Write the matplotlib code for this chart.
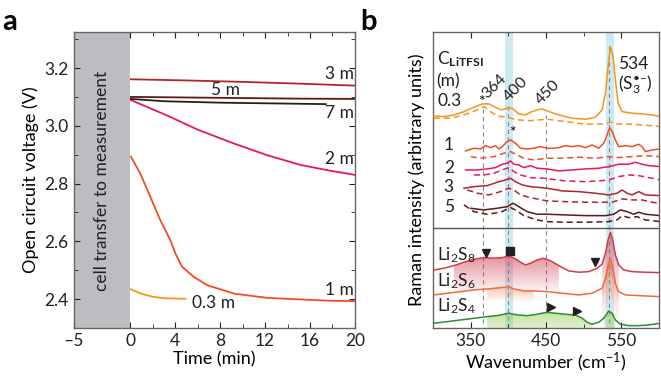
import numpy as np
import matplotlib
matplotlib.use('Agg')
import matplotlib.pyplot as plt
from matplotlib.colors import to_rgb

plt.rcParams['font.family'] = ['Lato', 'DejaVu Sans']
plt.rcParams['mathtext.fontset'] = 'custom'
plt.rcParams['mathtext.rm'] = 'Lato'
plt.rcParams['mathtext.it'] = 'Lato:italic'
plt.rcParams['mathtext.bf'] = 'Lato:bold'

# ---- panel a: open circuit voltage vs time ----
t_03 = [0.06, 1, 2, 3, 4.9]
v_03 = [2.434, 2.418, 2.408, 2.403, 2.401]
t_1 = [0.06, 0.89, 1.79, 2.68, 3.57, 4.02, 4.61, 5.65, 6.85, 9.23, 12.2, 17.86, 20]
v_1 = [2.893, 2.835, 2.754, 2.673, 2.604, 2.558, 2.512, 2.477, 2.448, 2.419, 2.404, 2.394, 2.393]
t_2 = [0.06, 3.2, 6.1, 9.2, 12.2, 15.2, 17.86, 20]
v_2 = [3.089, 3.037, 2.985, 2.939, 2.898, 2.864, 2.844, 2.83]
t_3 = [0.06, 5, 10, 15, 20]
v_3 = [3.161, 3.157, 3.152, 3.146, 3.139]
t_5 = [0.06, 5, 10, 15, 20]
v_5 = [3.100, 3.098, 3.096, 3.094, 3.093]
t_7 = [0.06, 3, 8, 17.4]
v_7 = [3.093, 3.085, 3.080, 3.075]

# ---- panel b: Raman spectra (wavenumber, intensity in arbitrary units) ----
s03 = [(301.4, 212), (314.7, 211.3), (327.9, 213), (341.1, 216.3), (354.4, 220.7), (365.4, 224),
       (374.2, 224), (385.3, 219.7), (391.9, 218), (400.7, 220.3), (405.1, 219.7), (414, 214),
       (422.8, 213), (429.4, 215.7), (438.2, 218), (444.8, 219), (451.5, 217), (467, 213),
       (484.7, 209.7), (502.4, 208.7), (515.6, 210.7), (524.5, 218), (528.9, 234.7), (532.4, 261.3),
       (535.5, 281.3), (539, 271.3), (542.1, 248), (545.7, 224.7), (551, 216.3), (564.2, 214.7),
       (577.4, 214), (590.7, 213), (601.7, 211.3)]
s03_d = [(301.4, 209.7), (323.5, 209.7), (341.1, 213), (358.8, 218), (367.6, 221.3), (376.4, 216.3),
         (385.3, 212), (398.5, 210.7), (411.7, 208), (429.4, 207.3), (451.5, 208.7), (475.9, 206.3),
         (502.4, 203.7), (528.9, 204), (535.5, 206), (544.3, 204), (564.2, 203.7), (581.9, 202.7),
         (601.7, 201.3)]
s1 = [(343.3, 177), (354.4, 179.7), (363.2, 179), (369.8, 182.3), (376.4, 180.3), (383.1, 182.3),
      (387.5, 179), (391.9, 181.3), (398.5, 186.3), (402.9, 188), (409.5, 184.7), (416.2, 179.7),
      (425, 179), (433.8, 179.7), (442.6, 181.3), (451.5, 179.7), (458.2, 179.7), (467.1, 180.3),
      (475.9, 182.3), (484.7, 181.3), (493.6, 182.3), (502.4, 180.3), (511.2, 183), (520, 179.7),
      (526.7, 184.7), (531.1, 193), (534.6, 200.3), (537.7, 196.3), (542.1, 188), (546.5, 181.3),
      (555.4, 182.3), (564.2, 181.3), (573, 183.7), (577.4, 181.3), (581.9, 176.3), (590.7, 178),
      (601.7, 179)]
s1_d = [(350, 171.3), (363.2, 169.7), (380.8, 171.3), (394.1, 174.7), (402.9, 176.3), (411.7, 173),
        (420.6, 169.7), (433.8, 168), (451.5, 169.7), (471.5, 169.7), (493.6, 170.7), (515.6, 169.7),
        (533.3, 171.3), (542.1, 170.3), (564.2, 171.3), (581.9, 172.3), (601.7, 171.3)]
s2 = [(343.3, 158), (358.8, 158), (372, 159), (383.1, 160.3), (391.9, 163.7), (398.5, 164.7),
      (402.9, 167), (407.3, 163.7), (413.9, 163), (420.6, 160.3), (429.4, 162.3), (438.2, 159.7),
      (451.5, 159), (467.1, 157), (484.7, 158), (502.4, 159), (520, 159.7), (533.3, 161.3),
      (546.5, 163.7), (559.8, 163.7), (568.6, 165.7), (577.4, 163.7), (586.3, 162.3), (601.7, 161.3)]
s2_d = [(354.4, 153), (367.6, 153), (380.8, 154.7), (391.9, 158), (400.7, 160.3), (407.3, 156.3),
        (416.2, 153), (429.4, 150.3), (447, 149.7), (475.9, 147), (502.4, 146.3), (520, 147),
        (533.3, 148), (546.5, 151.3), (559.8, 153), (573, 152.3), (586.3, 150.3), (601.7, 148)]
s3 = [(341.1, 139.7), (354.4, 141.3), (372, 142.3), (385.3, 145.7), (396.3, 148), (402.9, 149.7),
      (409.5, 146.3), (418.4, 143), (429.4, 141.3), (451.5, 139.7), (471.5, 137), (493.6, 136.3),
      (515.6, 134.7), (533.3, 133), (544.3, 134.7), (551, 138), (557.6, 134.7), (564.2, 133),
      (573, 136.3), (581.9, 133), (601.7, 132.3)]
s3_d = [(345.5, 138), (358.8, 134.7), (374.2, 133), (389.7, 136.3), (400.7, 139.7), (407.3, 138),
        (416.2, 133), (429.4, 130.3), (451.5, 127), (475.9, 126.3), (502.4, 125.7), (537.7, 125.7),
        (551, 129), (564.2, 128), (577.4, 128), (590.7, 125.7), (601.7, 124.7)]
s5 = [(350, 119.7), (367.6, 118), (385.3, 119.7), (398.5, 121.3), (406.4, 124.7), (413.9, 121.3),
      (425, 116.3), (438.2, 113.7), (451.5, 113.7), (475.9, 113), (502.4, 112.3), (528.9, 112.3),
      (539.9, 113.7), (548.7, 118), (557.6, 116.3), (566.4, 113.7), (573, 115.7), (581.9, 113.7),
      (601.7, 112.3)]
s5_d = [(341.1, 123), (354.4, 116.3), (372, 113.7), (389.7, 115.7), (402.9, 120.3), (409.5, 118),
        (420.6, 112.3), (438.2, 108), (451.5, 106.3), (475.9, 105.7), (502.4, 105.7), (533.3, 106.3),
        (544.3, 108), (551, 112.3), (559.8, 110.3), (570.9, 111.3), (581.9, 108), (601.7, 106.3)]
li2s8 = [(301.4, 58), (314.7, 59.7), (327.9, 62.3), (341.1, 65.7), (354.4, 68.7), (367.6, 70.3),
         (380.8, 69.7), (391.9, 70.3), (400.7, 72), (409.5, 69), (416.2, 65.7), (422.8, 63),
         (429.4, 64.7), (438.2, 68), (447, 69.7), (458.2, 66.3), (467.1, 62.3), (480.3, 57),
         (493.6, 55.7), (506.8, 56.3), (517.8, 59.7), (524.5, 63.7), (528.9, 74.7), (532.4, 88),
         (535.5, 95.7), (538.6, 88), (542.1, 73), (546.5, 63), (553.2, 58), (564.2, 56.3),
         (581.9, 55.7), (601.7, 55.3)]
li2s6 = [(301.4, 33), (319.1, 34.7), (336.7, 36.3), (354.4, 38), (372, 39), (389.7, 40.3),
         (400.7, 41.3), (407.3, 39), (420.6, 37), (433.8, 37), (451.5, 36.3), (471.5, 34.7),
         (493.6, 33), (511.2, 34.7), (524.5, 39.7), (528.9, 49.7), (532.4, 63), (535.5, 69.7),
         (539, 59.7), (542.1, 44.7), (546.5, 36.3), (555.4, 33), (573, 32.3), (601.7, 31.3)]
li2s4 = [(301.4, 4.7), (319.1, 6.3), (336.7, 8), (354.4, 9.7), (372, 11.3), (385.3, 12.3),
         (400.7, 14.7), (411.7, 13), (425, 12.3), (438.2, 13.7), (451.5, 15.7), (462.6, 14.7),
         (475.9, 13.7), (489.1, 13), (498, 9.7), (504.6, 5.7), (511.2, 3.7), (520, 5.7),
         (526.7, 9.7), (533.3, 17), (537.7, 14.7), (542.1, 8), (548.7, 3.7), (559.8, 2.3),
         (573, 2.3), (586.3, 3), (601.7, 4.7)]

peak_lines = [367, 400, 450, 534]
peak_labels = ['364', '400', '450']

C03, C1, C2, C3, C5, C7 = '#f7941d', '#f04e23', '#e8175d', '#b5232b', '#5e1818', '#231f20'
CS8, CS6, CS4 = '#d23a4a', '#f26a3d', '#2e8b3e'


def grad_fill(ax, xy, color, lo, hi, depth, alpha=0.8, floor=None, a0=0.0):
    d = np.array(xy)
    m = (d[:, 0] >= lo) & (d[:, 0] <= hi)
    x, y = d[m, 0], d[m, 1]
    base = np.full_like(y, floor) if floor is not None else y - depth
    poly = ax.fill_between(x, y, base, color='none', lw=0)
    img = np.zeros((100, 1, 4))
    img[:, :, :3] = to_rgb(color)
    img[:, 0, 3] = np.linspace(a0, alpha, 100)
    im = ax.imshow(img, extent=[x.min(), x.max(), base.min(), y.max()],
                   aspect='auto', origin='lower', zorder=1)
    im.set_clip_path(poly.get_paths()[0], transform=ax.transData)


def main():
    fig = plt.figure(figsize=(6.61, 3.80), dpi=100)
    axa = fig.add_axes([0.112, 0.137, 0.425, 0.779])
    axb = fig.add_axes([0.655, 0.137, 0.342, 0.779])

    # panel a
    axa.axvspan(-5, 0, color='#bcbdc0', lw=0, zorder=0)
    axa.text(-2.5, 2.81, 'cell transfer to measurement', rotation=90,
             ha='center', va='center', fontsize=12.5, color='#231f20')
    for t, v, c in [(t_03, v_03, C03), (t_1, v_1, C1), (t_2, v_2, C2),
                    (t_3, v_3, C3), (t_5, v_5, C5), (t_7, v_7, C7)]:
        axa.plot(t, v, color=c, lw=1.3)
    lab = dict(fontsize=12.5, color='#231f20', ha='center', va='center')
    axa.text(18.6, 3.18, '3 m', **lab)
    axa.text(8.5, 3.125, '5 m', **lab)
    axa.text(18.6, 3.045, '7 m', **lab)
    axa.text(18.6, 2.885, '2 m', **lab)
    axa.text(18.6, 2.43, '1 m', **lab)
    axa.text(7.4, 2.385, '0.3 m', **lab)
    axa.set_xlim(-5, 20)
    axa.set_ylim(2.3, 3.325)
    axa.set_xticks([-5, 0, 4, 8, 12, 16, 20])
    axa.set_xticklabels(['\u20135', '0', '4', '8', '12', '16', '20'])
    axa.set_xticks(np.arange(0, 21, 2), minor=True)
    axa.set_yticks([2.4, 2.6, 2.8, 3.0, 3.2])
    axa.set_yticks(np.arange(2.4, 3.31, 0.1), minor=True)
    axa.set_xlabel('Time (min)', fontsize=13, labelpad=1)
    axa.set_ylabel('Open circuit voltage (V)', fontsize=13, labelpad=4)

    # panel b
    for c in (400, 534):
        axb.axvspan(c - 5, c + 6, color='#cde9f1', lw=0, zorder=0)
    spans = {367: (5, 222), 400: (0, 225), 450: (15, 213), 534: (5, 282)}
    for p in peak_lines:
        axb.plot([p, p], spans[p], color='#8a8a8a', lw=0.8, ls=(0, (4, 3)), zorder=1)

    grad_fill(axb, li2s8, CS8, 325, 475, 30, alpha=0.55)
    grad_fill(axb, li2s8, CS8, 522, 550, 40, alpha=0.55)
    grad_fill(axb, li2s6, CS6, 370, 440, 12, alpha=0.4)
    grad_fill(axb, li2s6, CS6, 522, 550, 35, alpha=0.5)
    grad_fill(axb, li2s4, '#8cc63f', 355, 515, 0, alpha=0.5, floor=0, a0=0.25)
    grad_fill(axb, li2s4, '#8cc63f', 522, 548, 0, alpha=0.5, floor=0, a0=0.25)

    for xy, c, ls in [(s03, C03, '-'), (s03_d, C03, '--'), (s1, C1, '-'), (s1_d, C1, '--'),
                      (s2, C2, '-'), (s2_d, C2, '--'), (s3, C3, '-'), (s3_d, C3, '--'),
                      (s5, C5, '-'), (s5_d, C5, '--'), (li2s8, CS8, '-'), (li2s6, CS6, '-'),
                      (li2s4, CS4, '-')]:
        d = np.array(xy)
        axb.plot(d[:, 0], d[:, 1], color=c, lw=1.1, ls=ls, zorder=3,
                 dashes=(4, 2.5) if ls == '--' else (None, None))

    axb.axhline(100, color='#555555', lw=1.0, zorder=4)

    tk = dict(fontsize=12.5, color='#231f20', va='center')
    axb.text(305, 269, r'C$_{\mathbf{LiTFSI}}$', fontsize=12.5, color='#231f20', va='center')
    axb.text(305, 247, '(m)', **tk)
    axb.text(306, 227, '0.3', **tk)
    for s, y in zip(['1', '2', '3', '5'], [183, 160, 141, 121]):
        axb.text(321, y, s, ha='center', **tk)
    for s, x, y in zip(peak_labels, [382, 410, 452], [242, 239, 236]):
        axb.text(x, y, s, rotation=45, ha='center', va='center', fontsize=11.5, color='#231f20')
    axb.text(546, 264, '534', **tk)
    axb.text(546, 243, '(S$_3^{\u2022\u2013}$)', **tk)
    axb.text(364, 226, '*', ha='center', va='center', fontsize=11)
    axb.text(405, 195, '*', ha='center', va='center', fontsize=11)
    axb.text(306, 73, r'Li$_2$S$_8$', **tk)
    axb.text(306, 47, r'Li$_2$S$_6$', **tk)
    axb.text(306, 22, r'Li$_2$S$_4$', **tk)

    axb.plot([369.8, 514.7], [75, 66], 'v', color='#231f20', ms=5.5, zorder=5)
    axb.plot([402], [77], 's', color='#231f20', ms=6, zorder=5)
    axb.plot([457.3, 491.3], [21.3, 17], '>', color='#231f20', ms=5.5, zorder=5)

    axb.set_xlim(300, 600)
    axb.set_ylim(0, 296)
    axb.set_xticks([350, 450, 550])
    axb.set_xticks([400, 500], minor=True)
    axb.set_yticks([])
    axb.set_xlabel('Wavenumber (cm$^{-1}$)', fontsize=13, labelpad=1)
    axb.set_ylabel('Raman intensity (arbitrary units)', fontsize=13, labelpad=6)

    for ax in (axa, axb):
        ax.tick_params(which='both', direction='in', top=True, right=(ax is axa),
                       labelsize=12.5, colors='#231f20', pad=4)
        ax.tick_params(which='major', length=4)
        ax.tick_params(which='minor', length=3)
        for sp in ax.spines.values():
            sp.set_color('#666666')
            sp.set_linewidth(1.0)

    fig.text(0.004, 0.975, 'a', fontsize=21, fontweight='bold', va='top')
    fig.text(0.545, 0.975, 'b', fontsize=21, fontweight='bold', va='top')

    fig.savefig('out.png', dpi=100)


if __name__ == '__main__':
    main()
